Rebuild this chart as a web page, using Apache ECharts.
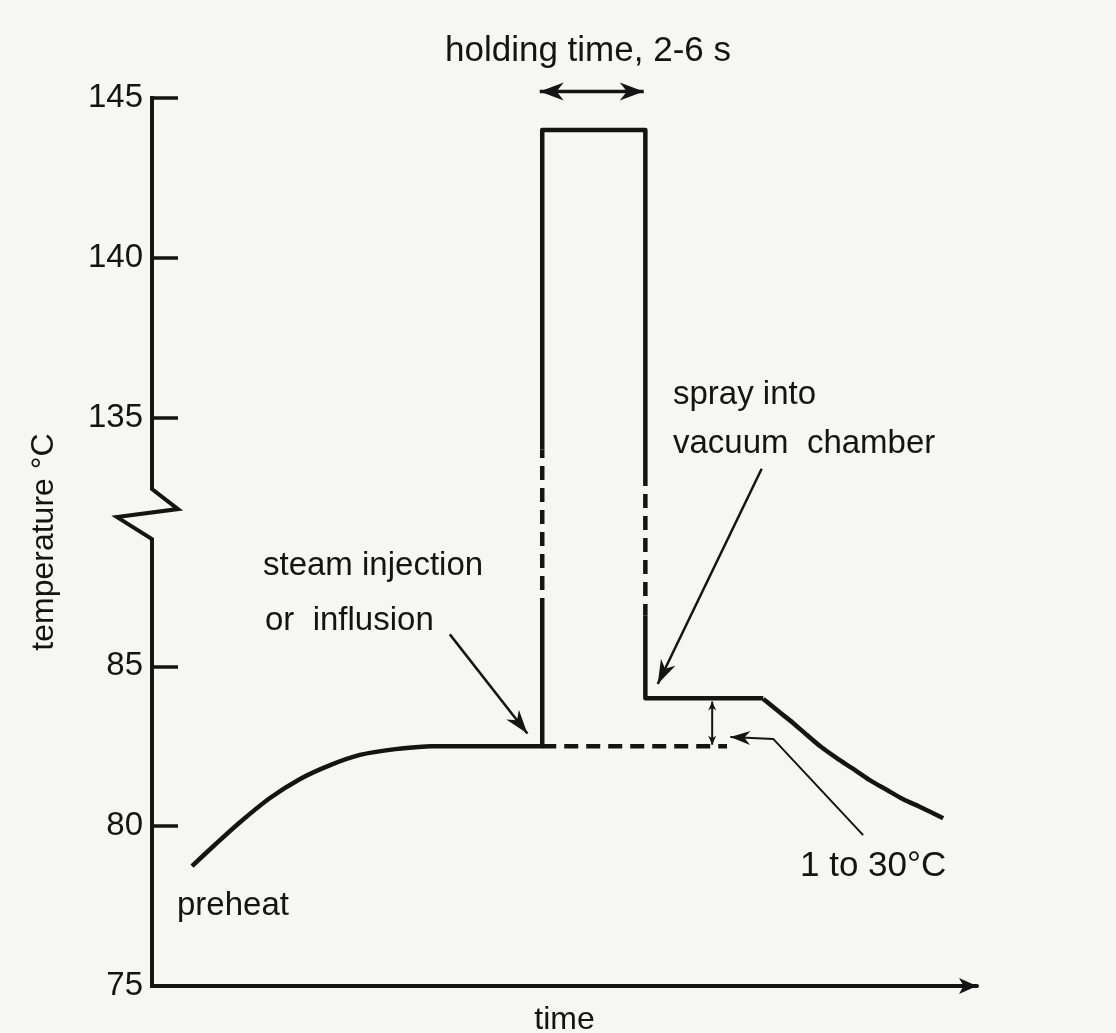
<!DOCTYPE html>
<html>
<head>
<meta charset="utf-8">
<script src="https://cdn.jsdelivr.net/npm/echarts@6/dist/echarts.min.js"></script>
<style>
html,body{margin:0;padding:0;background:#f6f6f4;}
#c{width:1116px;height:1033px;}
</style>
</head>
<body>
<div id="c"></div>
<script>
// ---------------- data (time in arbitrary units 0-100, temperature in °C) ----------------
const yTickTemps = [75, 80, 85, 135, 140, 145];

const preheatTime = [4.85, 7.6, 10.7, 14.3, 17.9, 21.6, 25.2, 29.5, 33.7];
const preheatTemp = [78.75, 79.41, 80.13, 80.88, 81.47, 81.91, 82.23, 82.41, 82.5];

const injectTime = [33.7, 47.3, 47.3];          // flat at preheat temp, then up (solid)
const injectTemp = [82.5, 82.5, 86.7];

const injectDashTime = [47.3, 47.3];            // rise across axis break (dashed)
const injectDashTemp = [86.7, 134.0];

const holdTime = [47.3, 47.3, 59.8, 59.8];      // top of profile, holding
const holdTemp = [134.0, 144.0, 144.0, 133.3];

const flashDashTime = [59.8, 59.8];             // drop across axis break (dashed)
const flashDashTemp = [133.3, 86.6];

const flashTime = [59.8, 59.8, 74.1];           // after vacuum chamber
const flashTemp = [86.6, 84.0, 84.0];

const coolTime = [74.1, 75.9, 77.7, 79.4, 81.0, 83.0, 85.0, 87.0, 89.1, 91.0, 93.1, 95.9];
const coolTemp = [83.98, 83.6, 83.23, 82.85, 82.5, 82.13, 81.79, 81.44, 81.13, 80.85, 80.6, 80.25];

const baseTime = [47.3, 69.7];                  // preheat temperature reference (dashed)
const baseTemp = [82.5, 82.5];

// ---------------- broken temperature axis mapping ----------------
function toAxis(T) {
  if (T <= 87) return T - 75;
  if (T >= 133) return T - 117.22;
  return 12 + (T - 87) / 46 * 3.78;
}
const breakTemp = 121;
const yTickVals = yTickTemps.map(toAxis);
const pts = (xs, ts) => xs.map((x, i) => [x, toAxis(ts[i])]);

const INK = '#141414';
const FONT = "'Liberation Sans', Arial, sans-serif";

function lineSeries(data, dashed, smooth) {
  return {
    type: 'line', data: data, symbol: 'none', smooth: smooth ? 0.3 : false,
    lineStyle: { color: INK, width: 4.5, type: dashed ? [14, 8] : 'solid', join: 'round', cap: 'butt' },
    silent: true, animation: false, clip: false, z: 3
  };
}

const chart = echarts.init(document.getElementById('c'), null, { renderer: 'canvas' });
chart.setOption({
  animation: false,
  backgroundColor: '#f6f6f4',
  grid: { left: 152, right: 139, top: 98, bottom: 47, containLabel: false, outerBoundsMode: 'none' },
  xAxis: {
    type: 'value', min: 0, max: 100,
    name: 'time', nameLocation: 'middle', nameGap: 18,
    nameTextStyle: { color: INK, fontSize: 32, fontFamily: FONT, verticalAlign: 'top' },
    axisLine: { show: true, symbol: ['none', 'arrow'], symbolSize: [12, 18],
      lineStyle: { color: INK, width: 4 } },
    axisTick: { show: false }, axisLabel: { show: false }, splitLine: { show: false }
  },
  yAxis: {
    type: 'value', min: 0, max: toAxis(145),
    name: 'temperature °C', nameLocation: 'middle', nameGap: 92, nameRotate: 90,
    nameTextStyle: { color: INK, fontSize: 32, fontFamily: FONT },
    axisLine: { show: false },
    axisTick: { show: true, inside: true, length: 26, customValues: yTickVals,
      lineStyle: { color: INK, width: 3.5 } },
    axisLabel: { show: true, customValues: yTickVals, margin: 9, color: INK,
      fontSize: 33, fontFamily: FONT,
      formatter: function (v) {
        let best = 0;
        yTickVals.forEach((t, i) => { if (Math.abs(t - v) < Math.abs(yTickVals[best] - v)) best = i; });
        return String(yTickTemps[best]);
      } },
    splitLine: { show: false }
  },
  series: [
    lineSeries(pts(preheatTime, preheatTemp), false, true),
    lineSeries(pts(injectTime, injectTemp), false, false),
    lineSeries(pts(injectDashTime, injectDashTemp), true, false),
    lineSeries(pts(holdTime, holdTemp), false, false),
    lineSeries(pts(flashDashTime, flashDashTemp), true, false),
    lineSeries(pts(flashTime, flashTemp), false, false),
    lineSeries(pts(coolTime, coolTemp), false, true),
    lineSeries(pts(baseTime, baseTemp), true, false)
  ]
});

// ---------------- annotations ----------------
const P = (x, T) => chart.convertToPixel({ gridIndex: 0 }, [x, toAxis(T)]);
const PV = (x, v) => chart.convertToPixel({ gridIndex: 0 }, [x, v]);

function head(tip, from, L, W) {
  const dx = tip[0] - from[0], dy = tip[1] - from[1];
  const len = Math.hypot(dx, dy); const ux = dx / len, uy = dy / len;
  const px = -uy, py = ux;
  const bx = tip[0] - ux * L, by = tip[1] - uy * L;
  const nx = tip[0] - ux * L * 0.7, ny = tip[1] - uy * L * 0.7;
  return { type: 'polygon', z: 10, silent: true,
    shape: { points: [tip, [bx + px * W, by + py * W], [nx, ny], [bx - px * W, by - py * W]] },
    style: { fill: INK } };
}
function arrow(a, b, width, both, L, W) {
  const g = [{ type: 'polyline', z: 10, silent: true, shape: { points: [a, b] },
    style: { stroke: INK, lineWidth: width, fill: null } }];
  g.push(head(b, a, L, W));
  if (both) g.push(head(a, b, L, W));
  return g;
}
function text(str, x, baseline, fs) {
  return { type: 'text', z: 10, silent: true, x: x, y: baseline - fs * 0.34 + 5,
    style: { text: str, fill: INK, font: fs + 'px ' + FONT, textAlign: 'left', textVerticalAlign: 'middle' } };
}

const graphics = [];
// y axis line with break zigzag
const axTop = PV(0, toAxis(145)), axBot = PV(0, 0), zc = P(0, breakTemp);
const ax = axTop[0];
graphics.push({ type: 'polyline', z: 5, silent: true,
  shape: { points: [[ax, axTop[1] - 2], [ax, zc[1] - 24], [ax + 26, zc[1] - 4], [ax - 35, zc[1] + 4], [ax, zc[1] + 26], [ax, axBot[1] + 2]] },
  style: { stroke: INK, lineWidth: 4, fill: null, lineJoin: 'miter' } });

// holding time double arrow
graphics.push(...arrow(P(47.0, 145.2), P(59.6, 145.2), 3.5, true, 24, 9));
// steam injection arrow
graphics.push(...arrow(P(36.1, 86.0), P(45.5, 82.9), 2.5, false, 24, 8));
// spray into vacuum chamber arrow
graphics.push(...arrow(P(73.9, 133.4), P(61.3, 84.45), 2.5, false, 24, 8));
// 1 to 30 °C bent arrow
const b1 = P(86.2, 79.72), b2 = P(75.3, 82.73), b3 = P(70.1, 82.79);
graphics.push({ type: 'polyline', z: 10, silent: true, shape: { points: [b1, b2, b3] },
  style: { stroke: INK, lineWidth: 2, fill: null } });
graphics.push(head(b3, b2, 20, 7));
// small difference double arrow
graphics.push(...arrow(P(67.9, 83.9), P(67.9, 82.55), 2, true, 9, 4));

// texts
graphics.push(text('holding time, 2-6 s', 445, 58, 35));
graphics.push(text('steam injection', 263, 572, 33));
graphics.push(text('or  influsion', 265, 627, 33));
graphics.push(text('spray into', 673, 401, 33));
graphics.push(text('vacuum  chamber', 673, 450, 33));
graphics.push(text('1 to 30°C', 800, 873, 35));
graphics.push(text('preheat', 177, 912, 33));

chart.setOption({ graphic: graphics });
</script>
</body>
</html>
